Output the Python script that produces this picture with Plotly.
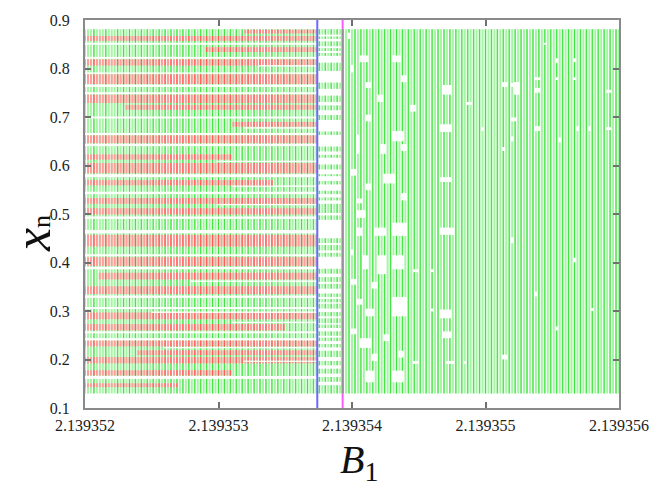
import numpy as np
import plotly.graph_objects as go

# ---- parameter sweep and attractor envelope ----
B1_START, B1_STOP, N_STEPS = 2.139352, 2.139356, 180
XN_LOW, XN_HIGH = 0.130, 0.881
B1_BLUE = 2.13935374      # end of the coexisting-attractor window
B1_MAGENTA = 2.13935393   # onset of the merged chaotic band

x_ticks = [2.139352, 2.139353, 2.139354, 2.139355, 2.139356]
x_tick_text = ["2.139352", "2.139353", "2.139354", "2.139355", "2.139356"]
y_ticks = [0.1, 0.2, 0.3, 0.4, 0.5, 0.6, 0.7, 0.8, 0.9]
y_tick_text = ["0.1", "0.2", "0.3", "0.4", "0.5", "0.6", "0.7", "0.8", "0.9"]

# empty x_n strips of the first attractor (x_lo, x_hi, appears from B1)
left_gaps = [
    (0.849, 0.853, 2.139352), (0.820, 0.824, 2.139352), (0.804, 0.807, 2.1393533),
    (0.789, 0.792, 2.139352), (0.762, 0.767, 2.139352), (0.747, 0.751, 2.139352),
    (0.697, 0.701, 2.139352), (0.676, 0.679, 2.1393532), (0.663, 0.667, 2.139352),
    (0.640, 0.645, 2.139352), (0.607, 0.610, 2.1393530), (0.576, 0.582, 2.139352),
    (0.556, 0.559, 2.1393531), (0.541, 0.546, 2.139352), (0.518, 0.521, 2.1393530),
    (0.490, 0.495, 2.139352), (0.460, 0.467, 2.139352), (0.413, 0.417, 2.139352),
    (0.386, 0.391, 2.139352), (0.360, 0.363, 2.1393528), (0.327, 0.332, 2.139352),
    (0.304, 0.308, 2.139352), (0.296, 0.299, 2.1393525), (0.275, 0.278, 2.1393531),
    (0.254, 0.258, 2.139352), (0.239, 0.244, 2.139352), (0.223, 0.226, 2.1393526),
    (0.195, 0.198, 2.1393532), (0.160, 0.166, 2.139352),
]

# second attractor (red): x_n strips and the B1 interval where they exist
left_red = [
    (0.872, 0.880, 2.1393532, B1_BLUE), (0.857, 0.867, 2.139352, B1_BLUE),
    (0.834, 0.844, 2.1393529, B1_BLUE), (0.806, 0.819, 2.139352, B1_BLUE),
    (0.768, 0.788, 2.139352, B1_BLUE), (0.729, 0.746, 2.139352, B1_BLUE),
    (0.715, 0.725, 2.1393523, B1_BLUE), (0.680, 0.690, 2.1393531, B1_BLUE),
    (0.646, 0.662, 2.139352, B1_BLUE), (0.612, 0.623, 2.139352, 2.1393531),
    (0.584, 0.605, 2.139352, B1_BLUE), (0.559, 0.570, 2.139352, 2.1393534),
    (0.521, 0.533, 2.139352, B1_BLUE), (0.499, 0.512, 2.139352, B1_BLUE),
    (0.433, 0.457, 2.139352, B1_BLUE), (0.393, 0.411, 2.139352, B1_BLUE),
    (0.365, 0.379, 2.1393521, B1_BLUE), (0.335, 0.351, 2.139352, B1_BLUE),
    (0.283, 0.297, 2.139352, B1_BLUE), (0.260, 0.273, 2.139352, 2.1393535),
    (0.227, 0.239, 2.139352, B1_BLUE), (0.209, 0.219, 2.1393524, B1_BLUE),
    (0.192, 0.205, 2.139352, B1_BLUE), (0.167, 0.178, 2.139352, 2.1393531),
    (0.143, 0.151, 2.139352, 2.1393527),
]

# occupied x_n strips between the two marked parameter values
mid_bands = [
    (0.870, 0.881), (0.861, 0.866), (0.846, 0.856), (0.836, 0.842), (0.826, 0.832),
    (0.795, 0.812), (0.758, 0.771), (0.731, 0.744), (0.714, 0.724), (0.694, 0.704),
    (0.663, 0.670), (0.629, 0.639), (0.616, 0.622), (0.592, 0.602), (0.578, 0.582),
    (0.561, 0.568), (0.541, 0.548), (0.528, 0.534), (0.502, 0.521), (0.488, 0.497),
    (0.440, 0.450), (0.425, 0.436), (0.412, 0.420), (0.377, 0.387), (0.360, 0.370),
    (0.346, 0.356), (0.329, 0.336), (0.318, 0.325), (0.305, 0.315), (0.289, 0.298),
    (0.275, 0.285), (0.265, 0.272), (0.249, 0.258), (0.238, 0.245), (0.225, 0.232),
    (0.205, 0.218), (0.188, 0.197), (0.171, 0.181), (0.154, 0.164), (0.130, 0.147),
]

# unvisited cells of the merged band (B1_lo, B1_hi, x_lo, x_hi)
right_holes = [
    (2.13935397, 2.13935399, 0.861, 0.874), (2.13935406, 2.13935412, 0.813, 0.827),
    (2.13935410, 2.13935415, 0.760, 0.772), (2.13935431, 2.13935436, 0.813, 0.827),
    (2.13935436, 2.13935441, 0.772, 0.786), (2.13935419, 2.13935423, 0.731, 0.746),
    (2.13935409, 2.13935414, 0.691, 0.705), (2.13935431, 2.13935438, 0.650, 0.671),
    (2.13935466, 2.13935474, 0.669, 0.685), (2.13935468, 2.13935474, 0.746, 0.766),
    (2.13935404, 2.13935406, 0.624, 0.664), (2.13935421, 2.13935426, 0.624, 0.644),
    (2.13935444, 2.13935447, 0.711, 0.725), (2.13935436, 2.13935441, 0.630, 0.644),
    (2.13935399, 2.13935401, 0.792, 0.807), (2.13935486, 2.13935489, 0.725, 0.731),
    (2.13935496, 2.13935498, 0.671, 0.679), (2.13935513, 2.13935516, 0.762, 0.772),
    (2.13935519, 2.13935521, 0.762, 0.770), (2.13935522, 2.13935526, 0.746, 0.772),
    (2.13935536, 2.13935540, 0.671, 0.681), (2.13935543, 2.13935545, 0.849, 0.853),
    (2.13935552, 2.13935555, 0.811, 0.821), (2.13935552, 2.13935555, 0.776, 0.782),
    (2.13935565, 2.13935567, 0.813, 0.821), (2.13935565, 2.13935567, 0.776, 0.782),
    (2.13935569, 2.13935571, 0.671, 0.681), (2.13935577, 2.13935579, 0.671, 0.681),
    (2.13935537, 2.13935540, 0.750, 0.760), (2.13935554, 2.13935555, 0.648, 0.658),
    (2.13935519, 2.13935521, 0.650, 0.660), (2.13935513, 2.13935515, 0.630, 0.638),
    (2.13935520, 2.13935524, 0.691, 0.699), (2.13935591, 2.13935594, 0.750, 0.756),
    (2.13935591, 2.13935594, 0.673, 0.679), (2.13935537, 2.13935540, 0.776, 0.782),
    (2.13935403, 2.13935409, 0.492, 0.508), (2.13935404, 2.13935408, 0.455, 0.472),
    (2.13935416, 2.13935426, 0.455, 0.472), (2.13935429, 2.13935441, 0.455, 0.482),
    (2.13935466, 2.13935476, 0.457, 0.472), (2.13935408, 2.13935412, 0.386, 0.415),
    (2.13935420, 2.13935426, 0.376, 0.415), (2.13935431, 2.13935438, 0.386, 0.415),
    (2.13935404, 2.13935408, 0.313, 0.325), (2.13935431, 2.13935441, 0.289, 0.329),
    (2.13935409, 2.13935416, 0.289, 0.305), (2.13935466, 2.13935474, 0.285, 0.303),
    (2.13935399, 2.13935404, 0.252, 0.264), (2.13935406, 2.13935414, 0.224, 0.244),
    (2.13935423, 2.13935427, 0.238, 0.252), (2.13935468, 2.13935474, 0.244, 0.258),
    (2.13935409, 2.13935416, 0.153, 0.177), (2.13935431, 2.13935438, 0.153, 0.177),
    (2.13935471, 2.13935476, 0.191, 0.197), (2.13935483, 2.13935486, 0.191, 0.197),
    (2.13935446, 2.13935449, 0.191, 0.197), (2.13935446, 2.13935449, 0.380, 0.386),
    (2.13935459, 2.13935462, 0.380, 0.386), (2.13935459, 2.13935462, 0.299, 0.305),
    (2.13935399, 2.13935401, 0.415, 0.427), (2.13935399, 2.13935403, 0.354, 0.366),
    (2.13935414, 2.13935419, 0.346, 0.360), (2.13935414, 2.13935419, 0.197, 0.212),
    (2.13935434, 2.13935438, 0.204, 0.218), (2.13935398, 2.13935403, 0.579, 0.593),
    (2.13935410, 2.13935415, 0.549, 0.563), (2.13935424, 2.13935432, 0.563, 0.583),
    (2.13935436, 2.13935441, 0.528, 0.543), (2.13935466, 2.13935474, 0.566, 0.576),
    (2.13935404, 2.13935408, 0.522, 0.532), (2.13935519, 2.13935521, 0.440, 0.452),
    (2.13935536, 2.13935539, 0.330, 0.340), (2.13935565, 2.13935567, 0.400, 0.410),
    (2.13935552, 2.13935554, 0.260, 0.268), (2.13935513, 2.13935516, 0.200, 0.210),
    (2.13935580, 2.13935582, 0.300, 0.306),
]

GREEN_LIGHT, GREEN_DARK = "#a6f5a6", "#3fe23f"
RED_LIGHT, RED_DARK = "#ff9c9c", "#ff5757"
SERIF = "Liberation Serif"

b1_grid = np.linspace(B1_START, B1_STOP, N_STEPS + 1)


def cut(intervals, lo, hi):
    out = []
    for a, b in intervals:
        if hi <= a or lo >= b:
            out.append((a, b))
        else:
            if lo > a:
                out.append((a, lo))
            if hi < b:
                out.append((hi, b))
    return out


# which columns each hole touches: centres inside it, else the nearest one
hole_cols = []
for b_lo, b_hi, lo, hi in right_holes:
    cols = [i for i, b in enumerate(b1_grid) if b_lo <= b <= b_hi]
    if not cols:
        cols = [int(np.argmin(np.abs(b1_grid - 0.5 * (b_lo + b_hi))))]
    hole_cols.append((set(cols), lo, hi))

segs = {k: ([], []) for k in ("gl", "gd", "rl", "rd")}


def add(key, b, intervals):
    xs, ys = segs[key]
    for lo, hi in intervals:
        xs += [b, b, None]
        ys += [lo, hi, None]


for i, b in enumerate(b1_grid):
    dense = (i % 2 == 1) if i >= 12 else (i % 4 == 3)
    red = []
    if b <= B1_BLUE + 1e-12:
        green = [(XN_LOW, XN_HIGH)]
        for lo, hi, start in left_gaps:
            if b >= start:
                green = cut(green, lo, hi)
        for lo, hi, s, e in left_red:
            if s <= b <= e + 1e-12:
                part = [(lo, hi)]
                for glo, ghi, start in left_gaps:
                    if b >= start:
                        part = cut(part, glo, ghi)
                red += part
    elif b < B1_MAGENTA:
        green = list(mid_bands)
    else:
        green = [(XN_LOW, XN_HIGH)]
        for cols, lo, hi in hole_cols:
            if i in cols:
                green = cut(green, lo, hi)
    add("gl", b, green)
    add("rl", b, red)
    if dense:
        add("gd", b, green)
        add("rd", b, red)

fig = go.Figure()

# marker lines sit under the orbit points
fig.add_trace(go.Scatter(x=[B1_MAGENTA, B1_MAGENTA], y=[0.1, 0.9], mode="lines",
                         line=dict(color="#ff5cff", width=2), hoverinfo="skip"))

for key, color, width in (("gl", GREEN_LIGHT, 2.0), ("gd", GREEN_DARK, 1.0),
                          ("rl", RED_LIGHT, 2.0), ("rd", RED_DARK, 1.0)):
    xs, ys = segs[key]
    fig.add_trace(go.Scatter(x=xs, y=ys, mode="lines", connectgaps=False,
                             line=dict(color=color, width=width), hoverinfo="skip"))

fig.add_trace(go.Scatter(x=[B1_MAGENTA, B1_MAGENTA], y=[XN_LOW, XN_HIGH], mode="lines",
                         line=dict(color="#9c8c9c", width=2), hoverinfo="skip"))
fig.add_trace(go.Scatter(x=[B1_BLUE, B1_BLUE], y=[0.1, 0.9], mode="lines",
                         line=dict(color="#6a6aff", width=2), hoverinfo="skip"))

axis_common = dict(
    showline=True, linecolor="#8a8a8a", linewidth=2, mirror="ticks",
    ticks="inside", ticklen=6, tickwidth=1.5, tickcolor="#707070",
    showgrid=False, zeroline=False,
    tickfont=dict(family=SERIF, size=16, color="#222222"),
)

fig.update_xaxes(range=[B1_START, B1_STOP], tickmode="array",
                 tickvals=x_ticks, ticktext=x_tick_text, ticklabelstandoff=2,
                 **axis_common)
fig.update_yaxes(range=[0.1, 0.9], tickmode="array",
                 tickvals=y_ticks, ticktext=y_tick_text, ticklabelstandoff=10,
                 **axis_common)

fig.update_layout(
    width=662, height=488,
    margin=dict(l=85, r=43, t=14, b=80),
    plot_bgcolor="white", paper_bgcolor="white",
    showlegend=False,
    annotations=[
        dict(text="<i>B</i><sub>1</sub>", xref="paper", yref="paper",
             x=0.514, y=-0.07, xanchor="center", yanchor="top", showarrow=False,
             font=dict(family=SERIF, size=40, color="#111111")),
        dict(text="<i>x</i><span style='font-size:26px'>n</span>",
             xref="paper", yref="paper", x=-0.098, y=0.45,
             xanchor="center", yanchor="middle", textangle=-90, showarrow=False,
             font=dict(family=SERIF, size=52, color="#111111")),
    ],
)

fig.write_html("out.html")
